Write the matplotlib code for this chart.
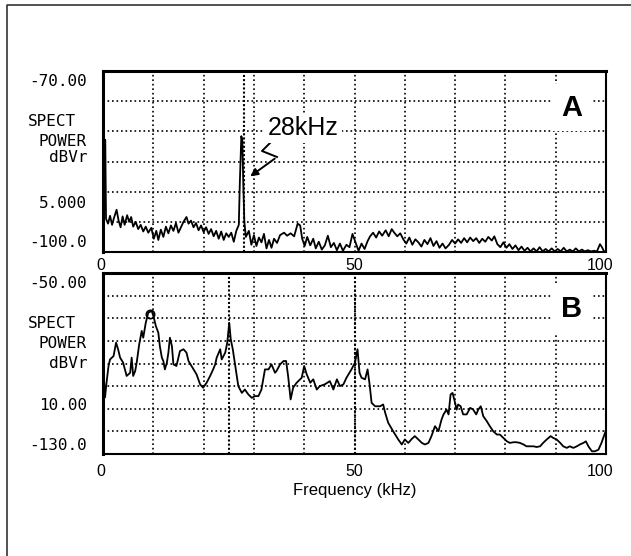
import matplotlib
matplotlib.use("Agg")
import matplotlib.pyplot as plt
from matplotlib.lines import Line2D
from matplotlib.patches import FancyArrowPatch
from matplotlib.transforms import blended_transform_factory, offset_copy

# ---------------- data ----------------
freq_a = [0.0, 0.2, 0.45, 0.6, 1.0, 1.4, 1.8, 2.2, 2.7, 3.1, 3.5, 3.9, 4.3, 4.8, 5.2, 5.6,
          6.0, 6.5, 7.0, 7.5, 8.0, 8.5, 9.0, 9.6, 10.1, 10.6, 11.0, 11.5, 12.0, 12.5, 13.0,
          13.5, 14.0, 14.5, 15.0, 15.5, 16.0, 16.6, 17.0, 17.5, 18.0, 18.5, 19.0, 19.5,
          20.0, 20.5, 21.0, 21.5, 22.0, 22.5, 23.0, 23.5, 24.0, 24.5, 25.0, 25.5, 26.0,
          26.5, 27.0, 27.2, 27.5, 27.7, 27.9, 28.1, 28.4, 29.0, 29.5, 30.0, 30.5, 31.0,
          31.5, 32.0, 32.5, 33.0, 33.5, 34.0, 34.6, 35.2, 36.0, 36.6, 37.3, 38.0, 38.7,
          39.2, 39.6, 40.1, 40.6, 41.2, 41.8, 42.3, 42.9, 43.5, 44.1, 44.7, 45.3, 45.9,
          46.5, 47.1, 47.7, 48.4, 49.0, 49.6, 50.2, 50.8, 51.4, 52.0, 52.6, 53.1, 53.7,
          54.3, 54.9, 55.5, 56.2, 56.8, 57.4, 57.9, 58.5, 59.1, 59.7, 60.3, 60.9, 61.5,
          62.1, 62.7, 63.3, 63.9, 64.5, 65.1, 65.7, 66.3, 66.9, 67.5, 68.1, 68.8, 69.4,
          70.0, 70.6, 71.2, 71.8, 72.4, 73.0, 73.6, 74.2, 74.8, 75.4, 76.0, 76.6, 77.3,
          77.8, 78.4, 79.0, 79.6, 80.2, 80.8, 81.4, 82.0, 82.6, 83.2, 83.8, 84.4, 85.0,
          85.6, 86.2, 86.8, 87.4, 88.0, 88.6, 89.2, 89.8, 90.4, 91.0, 91.6, 92.2, 92.8,
          93.4, 94.0, 94.6, 95.2, 95.8, 96.4, 97.0, 97.6, 98.2, 98.8, 99.2, 99.6, 100.0]
power_a = [-70.0, -94.0, -81.4, -94.5, -95.3, -94.0, -95.5, -94.3, -93.0, -94.8, -95.9, -94.1,
           -95.5, -93.9, -95.0, -94.2, -95.8, -95.0, -96.2, -95.5, -96.6, -95.8, -96.8, -96.0,
           -97.8, -96.5, -98.0, -96.3, -97.5, -95.8, -96.9, -95.6, -96.5, -95.2, -96.8, -95.9,
           -95.0, -94.2, -95.3, -94.8, -95.9, -95.2, -96.4, -95.6, -96.7, -95.9, -97.0, -96.2,
           -97.4, -96.5, -97.8, -96.6, -98.0, -96.9, -97.5, -96.8, -98.3, -96.5, -95.5, -88.6,
           -80.8, -81.5, -89.0, -95.0, -97.5, -96.5, -98.8, -97.2, -99.0, -97.6, -98.4, -97.0,
           -99.4, -98.0, -99.3, -97.8, -98.5, -97.2, -96.8, -97.3, -96.9, -97.4, -95.3, -95.6,
           -97.8, -99.0, -97.5, -98.9, -97.8, -99.4, -98.3, -99.6, -98.9, -97.3, -99.2, -98.5,
           -99.7, -98.6, -99.8, -98.8, -99.2, -97.0, -98.4, -99.8, -98.6, -99.5, -98.2, -97.4,
           -96.8, -97.6, -96.6, -97.3, -96.4, -97.4, -96.2, -96.8, -97.4, -96.9, -97.9, -98.6,
           -97.6, -98.8, -97.9, -98.4, -99.1, -98.0, -98.7, -97.7, -99.0, -98.2, -99.3, -98.6,
           -99.4, -98.8, -98.0, -98.6, -97.9, -98.5, -97.7, -98.4, -97.6, -98.2, -97.7, -98.5,
           -97.8, -98.3, -97.5, -98.1, -97.4, -98.7, -99.2, -98.4, -99.3, -98.7, -99.5, -98.9,
           -99.7, -99.1, -99.8, -99.3, -99.9, -99.4, -99.9, -99.2, -99.9, -99.5, -99.9, -99.4,
           -99.9, -99.5, -99.9, -99.3, -99.9, -99.6, -99.9, -99.4, -99.9, -99.6, -99.9, -99.7,
           -99.9, -99.8, -99.9, -98.7, -99.2, -99.9, -99.9]

freq_b = [0.0, 0.4, 0.7, 1.1, 1.4, 2.1, 2.6, 3.0, 3.4, 4.0, 4.7, 5.4, 5.7, 6.0, 6.4, 6.7, 7.2,
          7.7, 8.0, 8.5, 9.0, 9.7, 10.1, 10.5, 11.0, 11.3, 11.7, 12.0, 12.3, 12.7, 13.0, 13.3,
          13.7, 14.0, 14.6, 15.3, 16.0, 16.6, 17.0, 17.6, 18.6, 19.3, 19.9, 20.6, 21.3, 21.9,
          22.3, 22.6, 23.3, 23.6, 24.3, 24.7, 25.1, 25.4, 25.8, 26.2, 26.6, 26.9, 27.6, 28.2,
          28.9, 29.6, 30.2, 30.9, 31.5, 32.2, 32.9, 33.5, 34.2, 34.5, 35.2, 35.9, 36.4, 36.8,
          37.3, 37.8, 38.5, 39.5, 40.0, 40.5, 41.2, 41.8, 42.5, 43.1, 44.1, 45.1, 45.8, 46.5,
          47.1, 47.8, 48.4, 49.4, 50.1, 50.6, 51.0, 51.4, 52.1, 52.6, 53.0, 53.4, 54.1, 55.1,
          55.7, 56.1, 56.7, 57.7, 58.7, 59.4, 60.0, 60.7, 61.4, 62.0, 62.7, 63.4, 64.0, 64.7,
          65.3, 66.0, 66.7, 67.3, 67.7, 68.3, 68.7, 69.1, 69.5, 70.0, 70.3, 70.6, 71.1, 71.6,
          72.3, 73.0, 73.6, 74.2, 74.6, 75.1, 75.6, 76.3, 76.9, 77.6, 78.3, 78.9, 79.6, 80.3,
          80.9, 81.6, 82.2, 82.9, 83.6, 84.2, 84.9, 85.6, 86.2, 86.9, 87.5, 88.2, 89.0, 89.5,
          90.2, 90.9, 91.5, 92.2, 92.8, 93.5, 94.2, 94.8, 95.5, 96.0, 96.5, 97.2, 97.8, 98.5,
          99.1, 99.8, 100.0]
power_b = [-89.6, -105.0, -98.5, -91.1, -88.2, -86.7, -80.8, -83.7, -87.4, -89.6, -95.5, -94.1,
           -87.4, -95.5, -93.3, -89.6, -81.5, -75.6, -78.6, -72.0, -67.5, -66.8, -69.7, -73.4,
           -76.4, -82.3, -87.4, -88.9, -92.6, -89.6, -85.2, -78.6, -82.3, -90.4, -91.1, -84.5,
           -83.7, -85.2, -88.9, -91.1, -94.8, -99.2, -100.7, -98.5, -95.5, -92.6, -90.4, -87.4,
           -83.7, -88.2, -85.2, -80.8, -72.0, -79.3, -83.7, -89.6, -95.5, -100.0, -103.0,
           -101.5, -103.7, -105.2, -104.4, -104.4, -101.5, -92.6, -92.6, -90.4, -94.1, -93.3,
           -90.4, -88.9, -88.9, -95.5, -105.9, -100.7, -98.5, -96.3, -91.1, -94.8, -98.5,
           -97.0, -101.5, -100.0, -99.2, -97.8, -101.5, -97.0, -100.0, -99.2, -96.3, -92.6,
           -89.6, -83.7, -94.1, -96.3, -97.0, -92.6, -99.2, -107.4, -108.9, -108.9, -108.1,
           -111.8, -116.2, -120.0, -123.6, -125.8, -123.6, -125.1, -123.3, -122.1, -123.6,
           -125.1, -125.8, -125.1, -122.1, -117.7, -119.9, -114.8, -112.5, -110.4, -112.5,
           -103.7, -103.0, -107.4, -110.4, -108.1, -108.9, -112.5, -112.5, -109.6, -110.4,
           -112.5, -110.4, -108.9, -113.3, -115.5, -117.7, -120.0, -121.4, -121.4, -122.9,
           -124.4, -125.1, -124.8, -124.8, -125.1, -125.8, -126.6, -126.6, -126.6, -126.9,
           -126.6, -125.1, -123.6, -122.1, -122.9, -123.6, -125.1, -126.6, -127.3, -126.6,
           -127.3, -126.6, -125.8, -125.1, -124.4, -126.6, -128.8, -128.8, -128.1, -125.1,
           -120.7, -119.2]

circle_b = [9.4, -68.0]          # peak marker (kHz, dB) in panel B

ylim_a = [-100, -70]
ylim_b = [-130, -50]
ystep_a = 5
ystep_b = 10
ylabels_a = ["-70.00", "5.000", "-100.0"]
ylabels_b = ["-50.00", "10.00", "-130.0"]
unit_lines = ["SPECT", "POWER", "dBVr"]
xtick_values = [0, 50, 100]
xtick_labels = ["0", "50", "100"]
marker_a = [28]
marker_b = [25, 50]
panel_names = ["A", "B"]
peak_label = "28kHz"
x_label = "Frequency (kHz)"

# ---------------- layout ----------------
W, H = 631, 556
fig = plt.figure(figsize=(W / 100, H / 100), dpi=100)
fig.patch.set_facecolor("white")


def rect(left, top, right, bottom):
    return [left / W, 1 - bottom / H, (right - left) / W, (bottom - top) / H]


def fx(x):
    return x / W


def fy(y):
    return 1 - y / H


mono = "DejaVu Sans Mono"
sans = "Liberation Sans"

axA = fig.add_axes(rect(103, 71, 606, 252))
axB = fig.add_axes(rect(103, 273, 606, 454))

for ax, fr, pw, ylim, ystep, markers in [
    (axA, freq_a, power_a, ylim_a, ystep_a, marker_a),
    (axB, freq_b, power_b, ylim_b, ystep_b, marker_b),
]:
    ax.set_xlim(0, 100)
    ax.set_ylim(*ylim)
    ax.set_xticks(range(0, 101, 10))
    ax.set_yticks(range(ylim[0], ylim[1] + 1, ystep))
    ax.tick_params(length=0, labelbottom=False, labelleft=False)
    ax.grid(True, color="black", linestyle=(0, (1, 1.7)), linewidth=1.2)
    ax.set_axisbelow(True)
    for s in ax.spines.values():
        s.set_linewidth(1.5)
        s.set_color("black")
    ax.spines["top"].set_linewidth(2.2)
    ax.spines["left"].set_linewidth(2.2)
    for m in markers:
        ax.axvline(m, color="black", linewidth=1.5, linestyle=(0, (1, 1)), zorder=2)
    ax.plot(fr, pw, color="black", linewidth=1.3, zorder=3)

axB.plot([circle_b[0]], [circle_b[1]], marker="o", markersize=6, markerfacecolor="none",
         markeredgecolor="black", markeredgewidth=1.2, zorder=4)

# y-axis labels (analyzer style)
for labels, ys, unit_ys in [
    (ylabels_a, (81, 203, 243), (122, 141, 158)),
    (ylabels_b, (283, 405, 445), (323, 344, 364)),
]:
    for lab, y in zip(labels, ys):
        fig.text(fx(87), fy(y), lab, family=mono, fontsize=11.5, ha="right", va="center")
    fig.text(fx(28), fy(unit_ys[0]), unit_lines[0], family=mono, fontsize=11.5,
             ha="left", va="center")
    for lab, y in zip(unit_lines[1:], unit_ys[1:]):
        fig.text(fx(87), fy(y), lab, family=mono, fontsize=11.5, ha="right", va="center")

# x tick labels
for ax, y in [(axA, 266), (axB, 472)]:
    tr = blended_transform_factory(ax.transData, fig.transFigure)
    for v, lab in zip(xtick_values, xtick_labels):
        t = tr
        if v == 100:
            t = offset_copy(tr, fig=fig, x=-6, y=0, units="dots")
        elif v == 0:
            t = offset_copy(tr, fig=fig, x=-2, y=0, units="dots")
        fig.text(v, fy(y), lab, transform=t, family=sans, fontsize=11.5,
                 ha="center", va="center")

fig.text(fx(355), fy(491), x_label, family=sans, fontsize=12, ha="center", va="center")

# panel letters
for name, y in zip(panel_names, (107.5, 309)):
    fig.text(fx(572), fy(y), name, family=sans, fontsize=21, fontweight="bold",
             ha="center", va="center",
             bbox=dict(facecolor="white", edgecolor="none", pad=7))

# 28 kHz annotation with zigzag arrow
fig.text(fx(268), fy(135), peak_label, family=sans, fontsize=18, ha="left",
         va="baseline", bbox=dict(facecolor="white", edgecolor="none", pad=2))
zig = Line2D([fx(276), fx(262), fx(277)], [fy(137), fy(151), fy(157)],
             transform=fig.transFigure, color="black", linewidth=1.4)
fig.add_artist(zig)
arr = FancyArrowPatch((fx(277), fy(157)), (fx(248), fy(178)), transform=fig.transFigure,
                      arrowstyle="-|>", mutation_scale=11, color="black", linewidth=1.4)
fig.add_artist(arr)

# outer frame (left and top edges only)
frame = Line2D([fx(7), fx(7), fx(631)], [fy(556), fy(5), fy(5)],
               transform=fig.transFigure, color="#333333", linewidth=1.2)
fig.add_artist(frame)

fig.savefig("out.png", dpi=100, facecolor="white")
